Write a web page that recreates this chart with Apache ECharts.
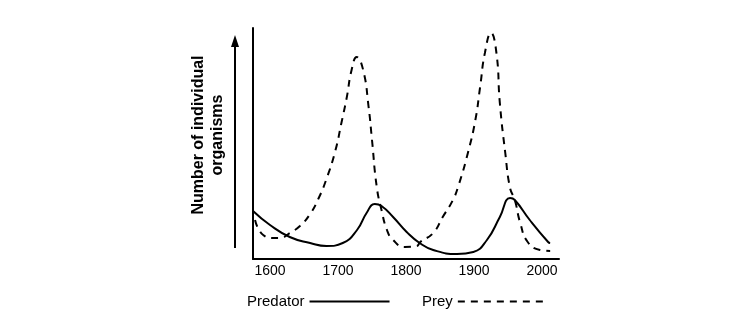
<!DOCTYPE html>
<html>
<head>
<meta charset="utf-8">
<script src="https://cdn.jsdelivr.net/npm/echarts@6/dist/echarts.min.js"></script>
<style>
  html, body { margin: 0; padding: 0; background: #fff; }
  #chart { width: 750px; height: 335px; }
</style>
</head>
<body>
<div id="chart"></div>
<script>
// Predator / prey population cycles, 1575–2025 (relative population units)
const yearTicks = [1600, 1700, 1800, 1900, 2000];

const predatorYears = [1575, 1600, 1629, 1659, 1683, 1707, 1728, 1742, 1754, 1764, 1781, 1801, 1820, 1840, 1875, 1899, 1919, 1938, 1953, 1960, 1982, 2009, 2012];
const predatorValues = [48, 34, 22, 16, 13, 16, 29, 46, 55, 53, 42, 27, 16, 9, 5, 7, 19, 42, 61, 59, 39, 17, 16];

const preyYears = [1578, 1590, 1607, 1615, 1629, 1644, 1659, 1671, 1683, 1696, 1705, 1713, 1720, 1727.5, 1737, 1745, 1750, 1757, 1764, 1772, 1781, 1798, 1816, 1821, 1840, 1854, 1869, 1877, 1891, 1902, 1909, 1916, 1925, 1933, 1938, 1946, 1953, 1960, 1968, 1979, 1997, 2012];
const preyValues = [39, 24, 21, 21, 26, 33, 45, 60, 80, 108, 136, 162, 189, 202, 189, 152, 119, 72, 49, 29, 19, 12, 13, 17, 26, 42, 59, 73, 106, 139, 172, 206, 226, 206, 156, 106, 71, 59, 36, 17, 9, 8];

const toPairs = (xs, ys) => xs.map((x, i) => [x, ys[i]]);

const font = '"Liberation Sans", Arial, sans-serif';
const chart = echarts.init(document.getElementById('chart'), null, { renderer: 'canvas' });

chart.setOption({
  animation: false,
  backgroundColor: '#fff',
  grid: { left: 253, right: 191, top: 28, bottom: 76, containLabel: false },
  xAxis: {
    type: 'value',
    min: 1575,
    max: 2025,
    axisLine: { show: true, lineStyle: { color: '#000', width: 2 } },
    axisTick: { show: false },
    splitLine: { show: false },
    axisLabel: {
      customValues: yearTicks,
      color: '#000',
      fontSize: 14,
      fontFamily: font,
      margin: 5,
      formatter: v => String(v)
    }
  },
  yAxis: {
    type: 'value',
    min: 0,
    max: 231,
    axisLine: { show: true, lineStyle: { color: '#000', width: 2 } },
    axisTick: { show: false },
    axisLabel: { show: false },
    splitLine: { show: false }
  },
  legend: [
    {
      data: ['Predator'],
      left: 247,
      top: 294,
      align: 'right',
      itemWidth: 80,
      itemHeight: 14,
      padding: 0,
      itemStyle: { opacity: 0 },
      textStyle: { color: '#000', fontSize: 15, fontFamily: font },
      selectedMode: false
    },
    {
      data: ['Prey'],
      left: 422,
      top: 294,
      align: 'right',
      itemWidth: 91,
      itemHeight: 14,
      padding: 0,
      itemStyle: { opacity: 0 },
      textStyle: { color: '#000', fontSize: 15, fontFamily: font },
      selectedMode: false
    }
  ],
  series: [
    {
      name: 'Predator',
      type: 'line',
      data: toPairs(predatorYears, predatorValues),
      smooth: 0.5,
      symbol: 'none',
      lineStyle: { color: '#000', width: 2, type: 'solid' },
      itemStyle: { color: '#000' }
    },
    {
      name: 'Prey',
      type: 'line',
      data: toPairs(preyYears, preyValues),
      smooth: 0.5,
      symbol: 'none',
      lineStyle: { color: '#000', width: 2, type: [7, 6] },
      itemStyle: { color: '#000' }
    }
  ],
  graphic: [
    // upward arrow beside the y axis
    {
      type: 'line',
      shape: { x1: 235, y1: 248, x2: 235, y2: 44 },
      style: { stroke: '#000', lineWidth: 2 }
    },
    {
      type: 'polygon',
      shape: { points: [[235, 35], [231, 47], [239, 47]] },
      style: { fill: '#000' }
    },
    // y axis title, two lines
    {
      type: 'text',
      x: 199,
      y: 135,
      rotation: Math.PI / 2,
      style: {
        text: 'Number of individual',
        fill: '#000',
        font: 'bold 16px ' + font,
        align: 'center',
        verticalAlign: 'middle'
      }
    },
    {
      type: 'text',
      x: 218,
      y: 135,
      rotation: Math.PI / 2,
      style: {
        text: 'organisms',
        fill: '#000',
        font: 'bold 16px ' + font,
        align: 'center',
        verticalAlign: 'middle'
      }
    }
  ]
});
</script>
</body>
</html>
